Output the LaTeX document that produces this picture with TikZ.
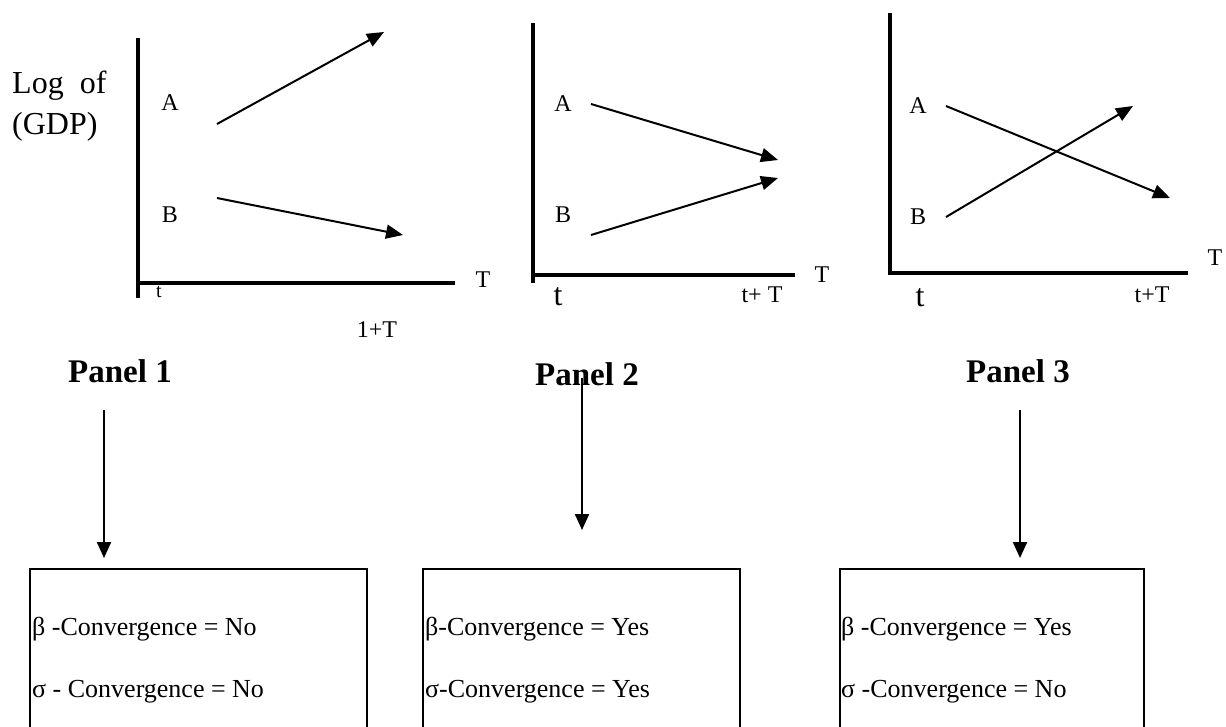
\documentclass[tikz,border=0pt]{standalone}
\usepackage{fontspec}
\setmainfont{Liberation Serif}
\usetikzlibrary{arrows.meta}
\begin{document}
\begin{tikzpicture}[x=1pt,y=-1pt,
  axis/.style={line width=3.5pt},
  growth/.style={line width=2pt,-{Triangle[length=17pt,width=14pt]}},
  flow/.style={line width=2.2pt,-{Triangle[length=16pt,width=14pt]}},
  lbl/.style={inner sep=0pt,font=\fontsize{24}{28}\selectfont},
  biglbl/.style={inner sep=0pt,font=\fontsize{32}{36}\selectfont},
  ylbl/.style={inner sep=0pt,anchor=base west,font=\fontsize{32}{36}\selectfont},
  panel/.style={inner sep=0pt,anchor=base,font=\fontsize{33}{38}\selectfont\bfseries},
  convbox/.style={draw,line width=1.5pt,anchor=north west,inner sep=0pt,minimum height=200pt},
  convtext/.style={inner sep=0pt,anchor=base west,font=\fontsize{26}{30}\selectfont}]
\useasboundingbox (0,0) rectangle (1226,726);
\clip (0,0) rectangle (1226,726);

% ---------- Panel 1 ----------
\draw[axis] (138,38) -- (138,298);
\draw[axis] (138,283) -- (455,283);
\node[ylbl] (log) at (12,93) {Log\ \ of};
\node[ylbl] (gdp) at (12,134) {(GDP)};
\node[lbl] (a1) at (170,103) {A};
\node[lbl] (b1) at (170,215) {B};
\node[lbl,font=\fontsize{20}{24}\selectfont] (t1) at (159,292) {t};
\node[lbl] (T1) at (483,280) {T};
\node[lbl] (tT1) at (377,330) {1+T};
\coordinate (a1s) at (217,124); \coordinate (a1e) at (384,32);
\coordinate (b1s) at (217,198); \coordinate (b1e) at (403,235);
\draw[growth] (a1s) -- (a1e);
\draw[growth] (b1s) -- (b1e);

% ---------- Panel 2 ----------
\draw[axis] (533,23) -- (533,283);
\draw[axis] (533,275) -- (795,275);
\node[lbl] (a2) at (563,104) {A};
\node[lbl] (b2) at (563,215) {B};
\node[biglbl] (t2) at (558,297) {t};
\node[lbl] (T2) at (822,275) {T};
\node[lbl] (tT2) at (762,295) {t+ T};
\coordinate (a2s) at (591,104); \coordinate (a2e) at (778,160);
\coordinate (b2s) at (591,235); \coordinate (b2e) at (778,178);
\draw[growth] (a2s) -- (a2e);
\draw[growth] (b2s) -- (b2e);

% ---------- Panel 3 ----------
\draw[axis] (890,13) -- (890,273) -- (1188,273);
\node[lbl] (a3) at (918,106) {A};
\node[lbl] (b3) at (918,217) {B};
\node[biglbl] (t3) at (920,298) {t};
\node[lbl] (T3) at (1215,258) {T};
\node[lbl] (tT3) at (1152,295) {t+T};
\coordinate (a3s) at (946,106); \coordinate (a3e) at (1170,198);
\coordinate (b3s) at (946,217); \coordinate (b3e) at (1133,106);
\draw[growth] (a3s) -- (a3e);
\draw[growth] (b3s) -- (b3e);

% ---------- Panel titles ----------
\node[panel] (p1) at (120,382) {Panel 1};
\node[panel] (p2) at (587,385) {Panel 2};
\node[panel] (p3) at (1018,382) {Panel 3};

% ---------- Boxes ----------
\node[convbox,minimum width=337pt] (box1) at (29,568) {};
\node[convbox,minimum width=317pt] (box2) at (422,568) {};
\node[convbox,minimum width=304pt] (box3) at (839,568) {};

\node[convtext] (b1l1) at (32,635) {β -Convergence = No};
\node[convtext] (b1l2) at (32,697) {σ - Convergence = No};
\node[convtext] (b2l1) at (425,635) {β-Convergence = Yes};
\node[convtext] (b2l2) at (425,697) {σ-Convergence = Yes};
\node[convtext] (b3l1) at (841,635) {β -Convergence = Yes};
\node[convtext] (b3l2) at (841,697) {σ -Convergence = No};

% ---------- Flow arrows ----------
\coordinate (s1) at (104,410);
\coordinate (s2) at (582,378);
\coordinate (s3) at (1020,410);
\draw[flow,shorten >=10pt] (s1) -- (s1 |- box1.north);
\draw[flow,shorten >=38pt] (s2) -- (s2 |- box2.north);
\draw[flow,shorten >=10pt] (s3) -- (s3 |- box3.north);
\end{tikzpicture}
\end{document}
